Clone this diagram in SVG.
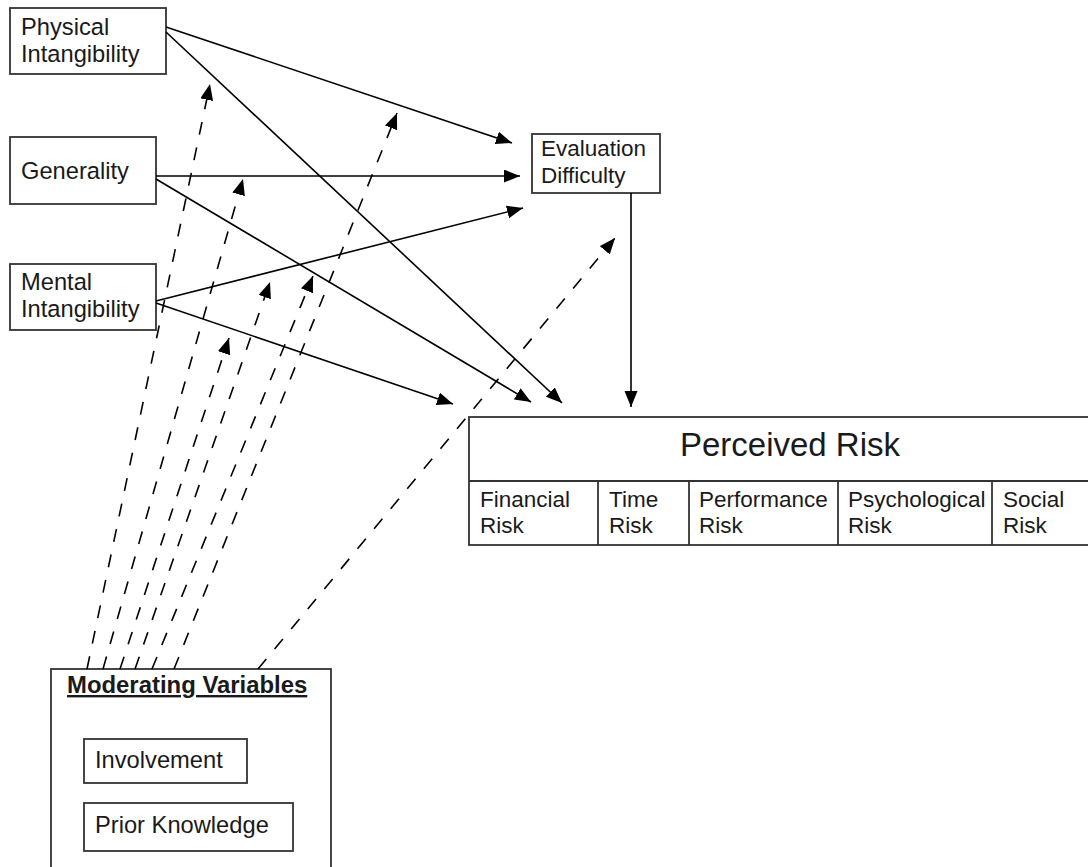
<svg xmlns="http://www.w3.org/2000/svg" width="1088" height="867" viewBox="0 0 1088 867">
<defs>
<marker id="ah" markerUnits="userSpaceOnUse" markerWidth="18" markerHeight="14" refX="16" refY="6.5" orient="auto">
<path d="M0,0 L16,6.5 L0,13 z" fill="#000"/>
</marker>
<style>
.box{fill:#fff;stroke:#333;stroke-width:1.8}
.t{font-family:"Liberation Sans",Arial,sans-serif;font-size:22.5px;fill:#1a1a1a}
.b{font-size:23.7px}
.s{stroke:#000;stroke-width:1.6;fill:none}
.d{stroke:#000;stroke-width:1.6;fill:none;stroke-dasharray:13 13}
</style>
</defs>
<rect width="1088" height="867" fill="#fff"/>

<g id="n-physical">
<rect class="box" x="10" y="8" width="156" height="66"/>
<text class="t b" x="21" y="35">Physical</text>
<text class="t b" x="21" y="62">Intangibility</text>
</g>
<g id="n-generality">
<rect class="box" x="10" y="137" width="146" height="67"/>
<text class="t b" x="21" y="179">Generality</text>
</g>
<g id="n-mental">
<rect class="box" x="10" y="264" width="146" height="66"/>
<text class="t b" x="21" y="290">Mental</text>
<text class="t b" x="21" y="317">Intangibility</text>
</g>
<g id="n-eval">
<rect class="box" x="532" y="134" width="128" height="59"/>
<text class="t" x="541" y="156">Evaluation</text>
<text class="t" x="541" y="183">Difficulty</text>
</g>
<g id="n-risk">
<rect class="box" x="469" y="417" width="640" height="128"/>
<line class="box" x1="469" y1="481" x2="1109" y2="481"/>
<line class="box" x1="598" y1="481" x2="598" y2="545"/>
<line class="box" x1="689" y1="481" x2="689" y2="545"/>
<line class="box" x1="838" y1="481" x2="838" y2="545"/>
<line class="box" x1="992" y1="481" x2="992" y2="545"/>
<text class="t" x="790" y="456" text-anchor="middle" style="font-size:33px">Perceived Risk</text>
<text class="t" x="480" y="507">Financial</text>
<text class="t" x="480" y="533">Risk</text>
<text class="t" x="609" y="507">Time</text>
<text class="t" x="609" y="533">Risk</text>
<text class="t" x="699" y="507">Performance</text>
<text class="t" x="699" y="533">Risk</text>
<text class="t" x="848" y="507">Psychological</text>
<text class="t" x="848" y="533">Risk</text>
<text class="t" x="1003" y="507">Social</text>
<text class="t" x="1003" y="533">Risk</text>
</g>
<g id="n-moderating">
<rect class="box" x="51" y="669" width="280" height="220"/>
<text class="t" x="67" y="693" style="font-weight:bold;font-size:23.9px;text-decoration:underline">Moderating Variables</text>
<g id="n-involvement">
<rect class="box" x="84" y="739" width="163" height="44"/>
<text class="t b" x="95" y="768">Involvement</text>
</g>
<g id="n-prior">
<rect class="box" x="84" y="803" width="209" height="48"/>
<text class="t b" x="95" y="833">Prior Knowledge</text>
</g>
</g>

<g id="connectors">
<line class="s" x1="166" y1="27" x2="512" y2="143" marker-end="url(#ah)"/>
<line class="s" x1="166" y1="32" x2="562" y2="403" marker-end="url(#ah)"/>
<line class="s" x1="156" y1="176" x2="520" y2="176" marker-end="url(#ah)"/>
<line class="s" x1="156" y1="179" x2="531" y2="402" marker-end="url(#ah)"/>
<line class="s" x1="156" y1="301" x2="523" y2="208" marker-end="url(#ah)"/>
<line class="s" x1="156" y1="303" x2="453" y2="404" marker-end="url(#ah)"/>
<line class="s" x1="631" y1="193" x2="631" y2="407" marker-end="url(#ah)"/>

<line class="d" x1="87" y1="669" x2="210" y2="84" marker-end="url(#ah)"/>
<line class="d" x1="103" y1="669" x2="243" y2="179" marker-end="url(#ah)"/>
<line class="d" x1="120" y1="669" x2="229" y2="338" marker-end="url(#ah)"/>
<line class="d" x1="135" y1="669" x2="270" y2="282" marker-end="url(#ah)"/>
<line class="d" x1="152" y1="669" x2="313" y2="276" marker-end="url(#ah)"/>
<line class="d" x1="174" y1="669" x2="397" y2="113" marker-end="url(#ah)"/>
<line class="d" x1="258" y1="669" x2="615" y2="238" marker-end="url(#ah)"/>
</g>
</svg>
